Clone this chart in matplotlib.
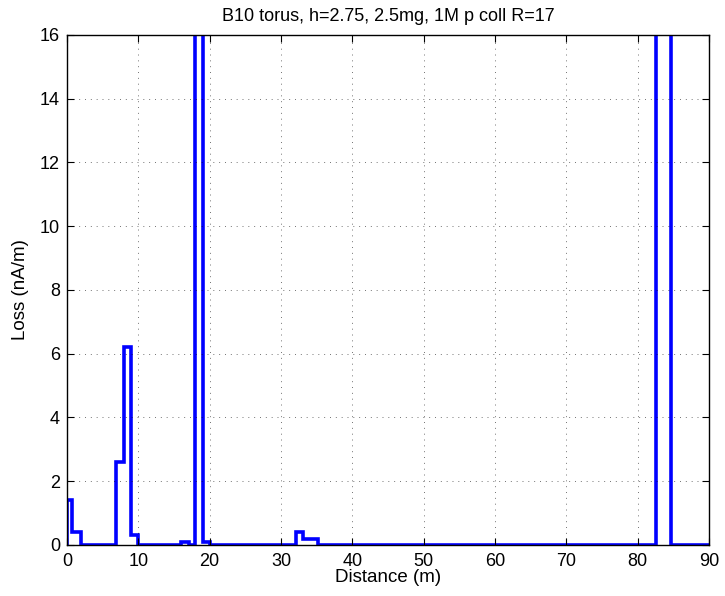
import numpy as np
import matplotlib
matplotlib.use('Agg')
import matplotlib.pyplot as plt

plt.rcParams['font.family'] = ['Liberation Sans', 'DejaVu Sans']

# bin edges (m) and loss per bin (nA/m); two peaks go far off scale
edges = [0, 0.75, 1.95, 6.9, 8.0, 9.0, 10.0, 16.0, 17.1, 18.0, 19.0, 20.0,
         32.1, 33.1, 35.2, 82.5, 84.6, 90]
loss = [1.4, 0.4, 0, 2.6, 6.2, 0.3, 0, 0.1, 0, 40, 0.1, 0,
        0.4, 0.2, 0, 40, 0]

xticks = np.arange(0, 91, 10)
yticks = np.arange(0, 17, 2)

fig = plt.figure(figsize=(7.25, 5.96), dpi=100)
ax = fig.add_axes([0.0924, 0.0856, 0.8856, 0.8557])

ax.stairs(loss, edges, baseline=0, color='#0000ff', linewidth=2.6)

ax.set_xlim(0, 90)
ax.set_ylim(0, 16)
ax.set_xticks(xticks)
ax.set_yticks(yticks)
ax.grid(True, color='k', linestyle=(0, (1, 5)), linewidth=0.7, alpha=0.55)
ax.tick_params(direction='in', top=True, right=True, labelsize=13, length=5)
ax.tick_params(axis='x', pad=6)
ax.tick_params(axis='y', pad=5)
for s in ax.spines.values():
    s.set_linewidth(1)

ax.set_xlabel('Distance (m)', fontsize=13.5, labelpad=-1)
ax.set_ylabel('Loss (nA/m)', fontsize=13.5, labelpad=8)
ax.set_title('B10 torus, h=2.75, 2.5mg, 1M p coll R=17', fontsize=13, pad=10)

fig.savefig('out.png')
